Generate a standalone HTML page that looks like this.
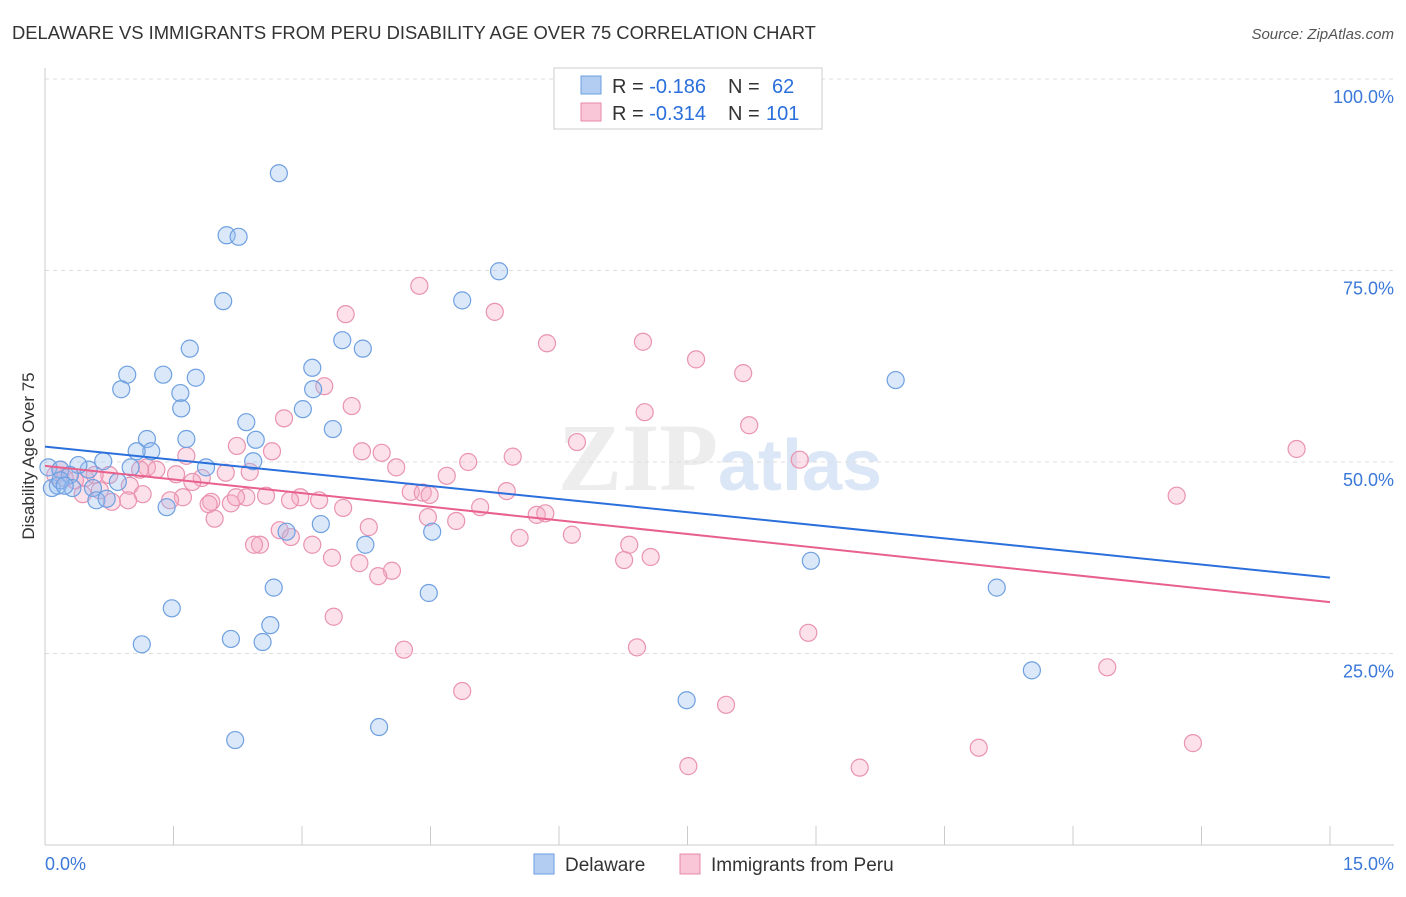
<!DOCTYPE html>
<html><head><meta charset="utf-8"><style>
body{margin:0;background:#fff;font-family:"Liberation Sans",sans-serif;}
svg text{font-family:"Liberation Sans",sans-serif;}
</style></head><body>
<svg id="chart" width="1406" height="892" viewBox="0 0 1406 892" xmlns="http://www.w3.org/2000/svg">
<text x="12" y="39" font-size="18.4" fill="#333">DELAWARE VS IMMIGRANTS FROM PERU DISABILITY AGE OVER 75 CORRELATION CHART</text>
<text x="1394" y="39" font-size="15" fill="#555" text-anchor="end" font-style="italic">Source: ZipAtlas.com</text>
<text x="720" y="490" font-size="96" text-anchor="middle" fill="#ddd" opacity="0.5"><tspan font-family="Liberation Serif" font-weight="bold">ZIP</tspan><tspan fill="#b8cfee" font-size="72" font-weight="bold">atlas</tspan></text>
<g id="grid"></g>
<g id="axes"></g>
<g id="points"></g>
<g id="lines"></g>
<text transform="translate(34,456) rotate(-90)" font-size="17" fill="#333" text-anchor="middle">Disability Age Over 75</text>
<g>
<rect x="554" y="68" width="268" height="61" fill="#fff" stroke="#ccc"/>
<rect x="581" y="76" width="20" height="18" fill="#b3cdf2" stroke="#6a9fe0"/>
<rect x="581" y="103" width="20" height="18" fill="#f8c6d6" stroke="#e88aa8"/>
<text x="612" y="93" font-size="20" fill="#333">R = <tspan fill="#2a6fdb">-0.186</tspan><tspan x="728">N = </tspan><tspan fill="#2a6fdb" x="772">62</tspan></text>
<text x="612" y="120" font-size="20" fill="#333">R = <tspan fill="#2a6fdb">-0.314</tspan><tspan x="728">N = </tspan><tspan fill="#2a6fdb" x="766">101</tspan></text>
</g>
<g>
<rect x="534" y="854" width="20" height="20" fill="#b3cdf2" stroke="#6a9fe0"/>
<text x="565" y="871" font-size="19" fill="#333">Delaware</text>
<rect x="680" y="854" width="20" height="20" fill="#f8c6d6" stroke="#e88aa8"/>
<text x="711" y="871" font-size="19" fill="#333">Immigrants from Peru</text>
</g>
</svg>
<script>
const blueX=[2.73,2.12,2.26,5.30,2.08,4.87,3.47,3.71,1.69,3.12,0.96,1.38,1.76,9.93,0.89,1.58,3.13,1.59,3.01,2.35,3.36,1.19,1.65,2.46,1.24,1.07,0.68,2.43,1.88,1.00,0.51,0.39,0.04,0.18,0.29,0.08,0.15,0.32,0.56,0.60,0.72,0.85,1.42,2.82,3.22,4.52,3.74,2.67,11.11,8.94,4.48,1.48,2.63,2.17,2.54,1.13,11.52,7.49,3.90,2.22,0.18,0.23];
const blueY=[87.7,79.6,79.4,74.9,71.0,71.1,65.9,64.8,64.8,62.3,61.4,61.4,61.0,60.7,59.5,59.0,59.5,57.0,56.9,55.2,54.3,53.0,53.0,52.9,51.4,51.4,50.1,50.1,49.3,49.3,49.0,49.6,49.3,49.0,48.3,46.6,46.9,46.6,46.6,45.0,45.2,47.4,44.1,40.9,41.9,40.9,39.2,33.6,33.6,37.1,32.9,30.9,28.7,26.9,26.5,26.2,22.8,18.9,15.4,13.7,47.6,46.9];
const pinkX=[4.37,3.51,5.25,5.86,6.98,7.60,8.15,3.26,3.58,7.00,2.79,8.22,6.21,2.24,14.61,3.70,2.65,1.65,3.93,5.46,4.94,8.81,4.10,1.19,1.30,1.53,2.39,2.11,1.83,1.72,0.75,0.47,0.99,1.14,1.61,1.94,2.35,2.58,2.98,3.20,4.27,4.41,5.39,13.21,1.46,0.97,0.78,0.44,3.48,4.69,5.08,2.17,1.91,1.98,2.74,4.47,4.80,5.74,5.84,3.78,2.87,3.12,2.51,2.44,3.35,3.67,4.05,3.89,5.54,6.15,6.82,7.07,6.76,3.37,8.91,4.19,6.91,4.87,7.95,12.40,7.51,9.51,10.90,13.40,0.18,0.35,0.12,0.58,0.23,0.64,1.11,2.86,2.23,4.49];
const pinkY=[73.0,69.3,69.6,65.5,65.7,63.4,61.6,59.9,57.3,56.5,55.7,54.8,52.6,52.1,51.7,51.4,51.4,50.8,51.2,50.7,50.0,50.3,49.3,49.3,49.0,48.4,48.7,48.6,47.9,47.4,48.3,47.9,46.9,45.8,45.4,44.8,45.4,45.6,45.4,45.0,46.1,46.0,46.2,45.6,45.0,45.0,44.8,45.8,44.0,48.2,44.1,44.6,44.5,42.6,41.1,42.8,42.3,43.1,43.3,41.5,40.2,39.2,39.2,39.2,37.5,36.8,35.8,35.1,40.1,40.5,39.2,37.6,37.2,29.8,27.7,25.5,25.8,20.1,18.3,23.2,10.3,10.1,12.7,13.3,49.0,47.6,48.3,48.3,47.9,46.3,49.0,45.0,45.4,45.7];
const blueTrend=[52.0,34.9];
const pinkTrend=[49.5,31.7];
const yTicks=[25,50,75,100];
const yTickLabels=["25.0%","50.0%","75.0%","100.0%"];
const xTickVals=[0,1.5,3,4.5,6,7.5,9,10.5,12,13.5,15];
const xEndLabels=["0.0%","15.0%"];

const NS="http://www.w3.org/2000/svg";
const sx=v=>45+v*(1285/15);
const sy=v=>845-v*(766/100);
function mk(tag,attrs,parent){const e=document.createElementNS(NS,tag);for(const k in attrs)e.setAttribute(k,attrs[k]);document.getElementById(parent).appendChild(e);return e;}

yTicks.forEach((t,i)=>{
  const g=mk('line',{x1:45,x2:1394,y1:sy(t),y2:sy(t),stroke:'#ddd','stroke-dasharray':'4,4'},'grid');
  
  
  const l=mk('text',{x:1394,y:sy(t)+24,'font-size':18,fill:'#3b78d8','text-anchor':'end'},'axes');
  l.textContent=yTickLabels[i];
  
  
});
const ya=mk('line',{x1:45,x2:45,y1:68,y2:845,stroke:'#ccc'},'axes');


const xa=mk('line',{x1:45,x2:1394,y1:845,y2:845,stroke:'#ccc'},'axes');


xTickVals.forEach(v=>{
  const t=mk('line',{x1:sx(v),x2:sx(v),y1:826,y2:845,stroke:'#ccc'},'axes');
  
  
});
const xl0=mk('text',{x:45,y:870,'font-size':18,fill:'#3b78d8'},'axes');
xl0.textContent=xEndLabels[0];


const xl1=mk('text',{x:1394,y:870,'font-size':18,fill:'#3b78d8','text-anchor':'end'},'axes');
xl1.textContent=xEndLabels[1];



pinkX.forEach((x,i)=>{
  const c=mk('circle',{cx:sx(x),cy:sy(pinkY[i]),r:8.5,fill:'rgba(245,170,196,0.35)',stroke:'#e993b0','stroke-width':1.2},'points');
  
  
});
blueX.forEach((x,i)=>{
  const c=mk('circle',{cx:sx(x),cy:sy(blueY[i]),r:8.5,fill:'rgba(150,190,240,0.35)',stroke:'#6fa0e0','stroke-width':1.2},'points');
  
  
});
const bl=mk('line',{x1:sx(0),y1:sy(blueTrend[0]),x2:sx(15),y2:sy(blueTrend[1]),stroke:'#2a6fdb','stroke-width':2},'lines');


const pl=mk('line',{x1:sx(0),y1:sy(pinkTrend[0]),x2:sx(15),y2:sy(pinkTrend[1]),stroke:'#e8608c','stroke-width':2},'lines');


</script>
</body></html>
